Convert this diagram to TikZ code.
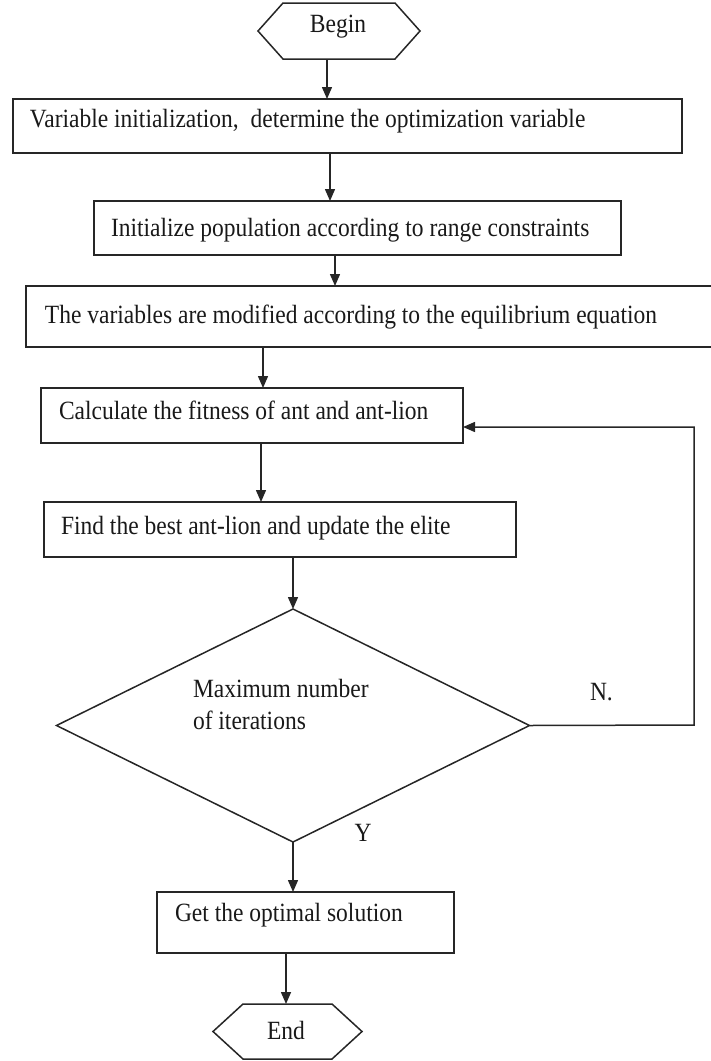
\documentclass[tikz,border=0pt]{standalone}
\usepackage{fontspec}
\setmainfont{Liberation Serif}
\usetikzlibrary{arrows.meta,shapes.geometric}
\newcommand{\tall}[1]{\scalebox{1}[1.12]{#1}}
\begin{document}
\begin{tikzpicture}[x=1pt,y=-1pt,line width=1.5pt,draw=black!85,
  box/.style={draw,rectangle,inner sep=0pt,outer sep=0pt},
  hexa/.style={inner sep=0pt,outer sep=0pt,minimum width=162pt,minimum height=56pt},
  lbl/.style={inner sep=0pt,outer sep=0pt,anchor=west,text=black!90,font=\fontsize{23.5}{27}\selectfont},
  clbl/.style={inner sep=0pt,outer sep=0pt,text=black!90,font=\fontsize{23.5}{27}\selectfont},
  arr/.style={-{Triangle[length=12pt,width=10pt]}}]
\useasboundingbox (0,0) rectangle (711,1061);
% terminals
\node[hexa] (begin) at (339,31) {};
\draw (begin.west) -- ([xshift=25pt]begin.north west) -- ([xshift=-25pt]begin.north east) -- (begin.east) -- ([xshift=-25pt]begin.south east) -- ([xshift=25pt]begin.south west) -- cycle;
\node[clbl] (tbegin) at (338,27) {\tall{Begin}};
\node[hexa,minimum width=149pt,minimum height=55pt] (end) at (287.5,1031.5) {};
\draw (end.west) -- ([xshift=30pt]end.north west) -- ([xshift=-30pt]end.north east) -- (end.east) -- ([xshift=-30pt]end.south east) -- ([xshift=30pt]end.south west) -- cycle;
\node[clbl] (tend) at (286,1030) {\tall{End}};
% process boxes
\node[box,minimum width=669pt,minimum height=54pt] (b1) at (347.5,126) {};
\node[box,minimum width=527pt,minimum height=54pt] (b2) at (357.5,228) {};
\node[box,minimum width=694pt,minimum height=61pt] (b3) at (373,316.5) {};
\node[box,minimum width=422pt,minimum height=55pt] (b4) at (252,415.5) {};
\node[box,minimum width=472pt,minimum height=55pt] (b5) at (280,529.5) {};
\node[box,minimum width=297pt,minimum height=61pt] (b6) at (305.5,922.5) {};
\node[draw,diamond,inner sep=0pt,outer sep=0pt,minimum width=473pt,minimum height=233pt] (dec) at (293,725.5) {};
% texts
\node[lbl] (t1) at (30,121) {\tall{Variable initialization,~ determine the optimization variable}};
\node[lbl] (t2) at (111,230) {\tall{Initialize population according to range constraints}};
\node[lbl] (t3) at (45,317) {\tall{The variables are modified according to the equilibrium equation}};
\node[lbl] (t4) at (59,410) {\tall{Calculate the fitness of ant and ant-lion}};
\node[lbl] (t5) at (61,528) {\tall{Find the best ant-lion and update the elite}};
\node[lbl] (t6) at (175,915) {\tall{Get the optimal solution}};
\node[lbl] (t7) at (193,688) {\tall{Maximum number}};
\node[lbl] (t8) at (193,720) {\tall{of iterations}};
\node[lbl] (ln) at (590,692) {\tall{N.}};
\node[clbl] (ly) at (363,833) {\tall{Y}};
% x positions of connectors
\coordinate (x1) at (327,0);
\coordinate (x2) at (330,0);
\coordinate (x3) at (335,0);
\coordinate (x4) at (263,0);
\coordinate (x5) at (261,0);
\coordinate (x6) at (293,0);
\coordinate (x7) at (286,0);
\coordinate (c1) at (694,725);
\coordinate (c2) at (694,427);
% connectors
\draw[arr] (x1 |- begin.south) -- (x1 |- b1.north);
\draw[arr] (x2 |- b1.south) -- (x2 |- b2.north);
\draw[arr] (x3 |- b2.south) -- (x3 |- b3.north);
\draw[arr] (x4 |- b3.south) -- (x4 |- b4.north);
\draw[arr] (x5 |- b4.south) -- (x5 |- b5.north);
\draw[arr] (x6 |- b5.south) -- (dec.north);
\draw[arr] (dec.south) -- (x6 |- b6.north);
\draw[arr] (x7 |- b6.south) -- (x7 |- end.north);
\draw[arr] (dec.east) -- (c1) -- (c2) -- (c2 -| b4.east);
\end{tikzpicture}
\end{document}
